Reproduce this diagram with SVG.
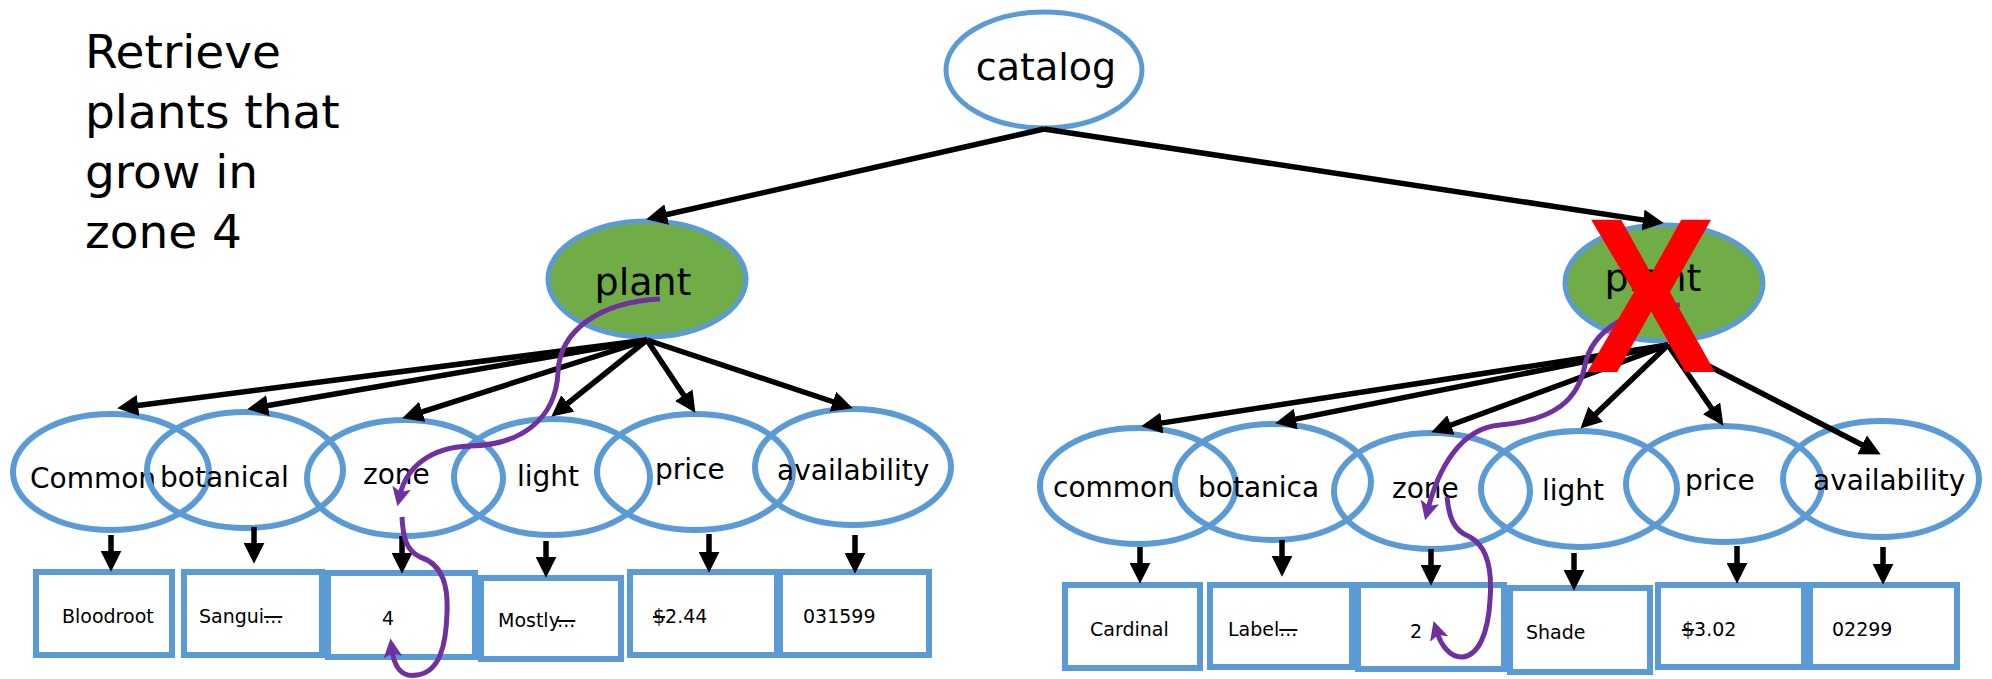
<svg xmlns="http://www.w3.org/2000/svg" width="1992" height="679" viewBox="0 0 1992 679">
<style>
.bg{fill:#ffffff}
.ov{fill:none;stroke:#5B9BD5;stroke-width:6}
.top{fill:#ffffff;stroke:#5B9BD5;stroke-width:5}
.pl{fill:#70AD47;stroke:#5B9BD5;stroke-width:5}
.bx{fill:none;stroke:#5B9BD5;stroke-width:6}
.t{font-family:"DejaVu Sans","Liberation Sans",sans-serif;fill:#000}
.big{font-size:38px}
.mid{font-size:28px}
.sm{font-size:19px}
.title{font-size:47px}
.ln{stroke:#000;stroke-width:5.5;fill:none;marker-end:url(#ah)}
.pu{stroke:#7030A0;stroke-width:5;fill:none}
.pua{marker-end:url(#pah)}
.st{text-decoration:line-through}
</style>
<defs>
<marker id="ah" viewBox="0 0 20 20" markerWidth="21" markerHeight="21" markerUnits="userSpaceOnUse" refX="4" refY="10" orient="auto">
<path d="M0,0 L20,10 L0,20 z" fill="#000"/>
</marker>
<marker id="pah" viewBox="0 0 18 18" markerWidth="19" markerHeight="19" markerUnits="userSpaceOnUse" refX="7" refY="9" orient="auto">
<path d="M0,0 L18,9 L0,18 L4,9 z" fill="#7030A0"/>
</marker>
</defs>
<rect class="bg" x="0" y="0" width="1992" height="679"/>

<g id="title">
<text class="t title" x="85" y="68">Retrieve</text>
<text class="t title" x="85" y="128">plants that</text>
<text class="t title" x="85" y="188">grow in</text>
<text class="t title" x="85" y="248">zone 4</text>
</g>

<g id="catalog"><ellipse class="top" cx="1044" cy="70" rx="98" ry="58"/><text class="t big" x="1046" y="80" text-anchor="middle">catalog</text></g>
<g id="plant1"><ellipse class="pl" cx="647" cy="279" rx="99" ry="58"/><text class="t big" x="643" y="295" text-anchor="middle">plant</text></g>
<g id="plant2"><ellipse class="pl" cx="1664" cy="283" rx="99" ry="58"/><text class="t big" x="1653" y="291" text-anchor="middle">plant</text></g>

<g id="common1"><ellipse class="ov" cx="111" cy="472" rx="98" ry="58"/><text class="t mid" x="30" y="488">Common</text></g>
<g id="botanical1"><ellipse class="ov" cx="245" cy="470" rx="98" ry="58"/><text class="t mid" x="160" y="487">botanical</text></g>
<g id="zone1"><ellipse class="ov" cx="405" cy="478" rx="98" ry="58"/><text class="t mid" x="363" y="484">zone</text></g>
<g id="light1"><ellipse class="ov" cx="552" cy="477" rx="98" ry="58"/><text class="t mid" x="517" y="486">light</text></g>
<g id="price1"><ellipse class="ov" cx="695" cy="472" rx="98" ry="58"/><text class="t mid" x="655" y="479">price</text></g>
<g id="availability1"><ellipse class="ov" cx="853" cy="467" rx="98" ry="58"/><text class="t mid" x="777" y="480">availability</text></g>

<g id="common2"><ellipse class="ov" cx="1138" cy="486" rx="98" ry="58"/><text class="t mid" x="1053" y="497">common</text></g>
<g id="botanica2"><ellipse class="ov" cx="1273" cy="482" rx="98" ry="58"/><text class="t mid" x="1198" y="497">botanica</text></g>
<g id="zone2"><ellipse class="ov" cx="1432" cy="491" rx="98" ry="58"/><text class="t mid" x="1392" y="498">zone</text></g>
<g id="light2"><ellipse class="ov" cx="1579" cy="489" rx="98" ry="58"/><text class="t mid" x="1542" y="500">light</text></g>
<g id="price2"><ellipse class="ov" cx="1724" cy="484" rx="98" ry="58"/><text class="t mid" x="1685" y="490">price</text></g>
<g id="availability2"><ellipse class="ov" cx="1881" cy="479" rx="98" ry="58"/><text class="t mid" x="1813" y="490">availability</text></g>

<g id="v-bloodroot"><rect class="bx" x="36" y="572" width="136" height="83"/><text class="t sm" x="62" y="623">Bloodroot</text></g>
<g id="v-sangui"><rect class="bx" x="184" y="572" width="138" height="83"/><text class="t sm" x="199" y="623">Sangui<tspan class="st">...</tspan></text></g>
<g id="v-4"><rect class="bx" x="328" y="573" width="147" height="84"/><text class="t sm" x="382" y="625">4</text></g>
<g id="v-mostly"><rect class="bx" x="481" y="578" width="140" height="81"/><text class="t sm" x="498" y="627">Mostly<tspan class="st">...</tspan></text></g>
<g id="v-244"><rect class="bx" x="630" y="572" width="147" height="83"/><text class="t sm" x="653" y="623"><tspan class="st">$</tspan>2.44</text></g>
<g id="v-031599"><rect class="bx" x="780" y="572" width="149" height="83"/><text class="t sm" x="803" y="623">031599</text></g>

<g id="v-cardinal"><rect class="bx" x="1065" y="585" width="135" height="83"/><text class="t sm" x="1090" y="636">Cardinal</text></g>
<g id="v-label"><rect class="bx" x="1210" y="585" width="142" height="82"/><text class="t sm" x="1228" y="636">Label<tspan class="st">...</tspan></text></g>
<g id="v-2"><rect class="bx" x="1358" y="585" width="146" height="84"/><text class="t sm" x="1410" y="638">2</text></g>
<g id="v-shade"><rect class="bx" x="1510" y="588" width="140" height="84"/><text class="t sm" x="1526" y="639">Shade</text></g>
<g id="v-302"><rect class="bx" x="1658" y="585" width="146" height="82"/><text class="t sm" x="1682" y="636"><tspan class="st">$</tspan>3.02</text></g>
<g id="v-02299"><rect class="bx" x="1810" y="585" width="147" height="82"/><text class="t sm" x="1832" y="636">02299</text></g>

<g id="connectors">
<line class="ln" x1="1044" y1="129" x2="662.6" y2="215.5"/>
<line class="ln" x1="1044" y1="129" x2="1647.2" y2="220.6"/>
<line class="ln" x1="647" y1="340" x2="133.9" y2="406"/>
<line class="ln" x1="647" y1="340" x2="263.8" y2="406.3"/>
<line class="ln" x1="647" y1="340" x2="418.2" y2="413.1"/>
<line class="ln" x1="647" y1="340" x2="564.5" y2="406"/>
<line class="ln" x1="647" y1="340" x2="686.1" y2="398.7"/>
<line class="ln" x1="647" y1="340" x2="836.8" y2="403"/>
<line class="ln" x1="1668" y1="345" x2="1157.8" y2="423.6"/>
<line class="ln" x1="1668" y1="345" x2="1291.7" y2="419.9"/>
<line class="ln" x1="1668" y1="345" x2="1447" y2="426.5"/>
<line class="ln" x1="1668" y1="345" x2="1592.6" y2="417"/>
<line class="ln" x1="1668" y1="345" x2="1713.9" y2="411.8"/>
<line class="ln" x1="1668" y1="345" x2="1865.8" y2="446.7"/>
<line class="ln" x1="111" y1="535" x2="111" y2="555"/>
<line class="ln" x1="254" y1="527" x2="254" y2="547"/>
<line class="ln" x1="402" y1="536" x2="402" y2="557"/>
<line class="ln" x1="546" y1="541" x2="546" y2="561"/>
<line class="ln" x1="709" y1="534" x2="709" y2="556"/>
<line class="ln" x1="855" y1="535" x2="855" y2="557"/>
<line class="ln" x1="1140" y1="547" x2="1140" y2="567"/>
<line class="ln" x1="1282" y1="540" x2="1282" y2="560"/>
<line class="ln" x1="1431" y1="549" x2="1431" y2="569"/>
<line class="ln" x1="1574" y1="553" x2="1574" y2="574"/>
<line class="ln" x1="1737" y1="546" x2="1737" y2="567"/>
<line class="ln" x1="1883" y1="547" x2="1883" y2="568"/>
<path class="pu pua" d="M660,299 C600,302 560,330 558,372 C556,420 520,445 470,446 C430,447 406,468 400,495"/>
<path class="pu pua" d="M402,517 C403,535 405,550 420,557 C445,565 448,590 447,613 C446,645 440,672 417,675 C400,678 394,665 392,650"/>
<path class="pu pua" d="M1680,305 C1630,308 1592,330 1585,365 C1578,400 1555,420 1500,425 C1460,428 1438,470 1428,509"/>
<path class="pu pua" d="M1447,497 C1449,515 1452,530 1470,537 C1490,548 1492,575 1490,600 C1488,635 1478,655 1463,657 C1450,658 1441,645 1437,632"/>
</g>

<g id="cross"><text transform="translate(1651,372) scale(0.89,1)" x="0" y="0" text-anchor="middle" font-family="'Liberation Sans',Arial,sans-serif" font-weight="bold" font-size="221" fill="#FF0000">X</text></g>
</svg>
